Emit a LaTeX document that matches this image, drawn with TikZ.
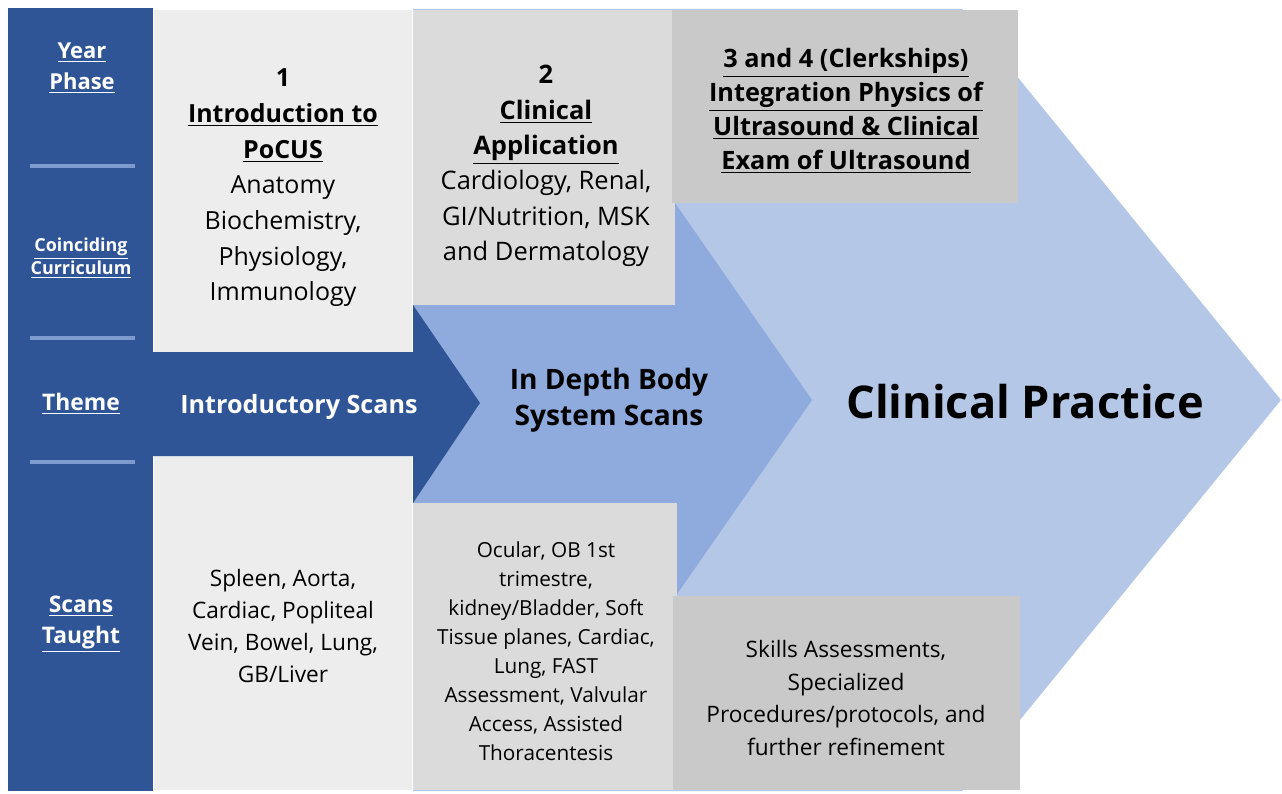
\documentclass[tikz,border=0pt]{standalone}
\usepackage{fontspec}
\setmainfont{Open Sans}
\usetikzlibrary{positioning}

\definecolor{bandblue}{HTML}{2F5597}
\definecolor{midblue}{HTML}{8FAADC}
\definecolor{paleblue}{HTML}{B4C7E7}
\definecolor{sepblue}{HTML}{7E9BCF}
\definecolor{greyA}{HTML}{EDEDED}
\definecolor{greyB}{HTML}{DBDBDB}
\definecolor{greyC}{HTML}{C9C9C9}

\newcommand{\undl}[1]{\underline{#1}}

\begin{document}
\begin{tikzpicture}[x=0.02cm, y=-0.02cm,
    box/.style={rectangle, inner sep=0pt, align=center},
    head/.style={font=\fontsize{13}{17.6}\selectfont\bfseries, text=white, align=center},
    body/.style={font=\fontsize{14.2}{20.3}\selectfont, align=center},
    bodysmall/.style={font=\fontsize{11.8}{16.5}\selectfont, align=center}]
    \useasboundingbox[fill=white] (0,0) rectangle (1282,794);

    % Big arrows, back to front
    \fill[paleblue] (413,9) -- (962,9) -- (1281,400) -- (962,791) -- (413,791) -- cycle;
    \fill[midblue] (413,305) -- (675,305) -- (675,203) -- (812,400) -- (675,597) -- (675,503) -- (413,503) -- cycle;

    % Left band with labels
    \fill[bandblue] (8,8) rectangle (153,791);
    \foreach \y in {166,338,462}
        \draw[sepblue, line width=2.2pt] (30,\y) -- (135,\y);

    \node[head, font=\fontsize{12.5}{17.6}\selectfont\bfseries] (yearphase) at (82,68) {\undl{Year}\\\undl{Phase}};
    \node[head, font=\fontsize{10.2}{13.5}\selectfont\bfseries] (coinciding) at (81,258) {\undl{Coinciding}\\\undl{Curriculum}};
    \node[head] (theme) at (81,404) {\undl{Theme}};
    \node[head] (scanstaught) at (81,624) {\undl{Scans}\\\undl{Taught}};

    % Grey boxes, top row
    \node[box, fill=greyA, minimum width=5.16cm, minimum height=6.84cm] (yearone) at (283,181) {};
    \node[body] (yearonetxt) at (283,188) {\textbf{1}\\\textbf{\undl{Introduction to}}\\\textbf{\undl{PoCUS}}\\Anatomy\\Biochemistry,\\Physiology,\\Immunology};

    \node[box, fill=greyB, minimum width=5.24cm, minimum height=5.9cm] (yeartwo) at (544,157.5) {};
    \node[body, font=\fontsize{14.5}{20.1}\selectfont] (yeartwotxt) at (546,166) {\textbf{2}\\\textbf{\undl{Clinical}}\\\textbf{\undl{Application}}\\Cardiology, Renal,\\GI/Nutrition, MSK\\and Dermatology};

    \node[box, fill=greyC, minimum width=6.92cm, minimum height=3.86cm] (clerkships) at (845,106.5) {};
    \node[body, font=\fontsize{14.4}{19.3}\selectfont\bfseries] (clerkshipstxt) at (846,111) {\undl{3 and 4 (Clerkships)}\\\undl{Integration Physics of}\\\undl{Ultrasound \& Clinical}\\\undl{Exam of Ultrasound}};

    % Grey boxes, bottom row
    \node[box, fill=greyA, minimum width=5.16cm, minimum height=6.68cm] (scansone) at (283,623) {};
    \node[body, font=\fontsize{12.9}{18.3}\selectfont] (scansonetxt) at (283,626) {Spleen, Aorta,\\Cardiac, Popliteal\\Vein, Bowel, Lung,\\GB/Liver};

    \node[box, fill=greyB, minimum width=5.28cm, minimum height=5.74cm] (scanstwo) at (545,646.5) {};
    \node[bodysmall] (scanstwotxt) at (546,651) {Ocular, OB 1st\\trimestre,\\kidney/Bladder, Soft\\Tissue planes, Cardiac,\\Lung, FAST\\Assessment, Valvular\\Access, Assisted\\Thoracentesis};

    \node[box, fill=greyC, minimum width=6.94cm, minimum height=3.88cm] (skills) at (846.5,693) {};
    \node[body, font=\fontsize{12.9}{18.6}\selectfont] (skillstxt) at (846,698) {Skills Assessments,\\Specialized\\Procedures/protocols, and\\further refinement};

    % Dark arrow on top
    \fill[bandblue] (153,352) -- (413,352) -- (413,305) -- (480,403) -- (413,503) -- (413,456) -- (153,456) -- cycle;

    \node[head, font=\fontsize{14.3}{20}\selectfont\bfseries] (intro) at (299,407) {Introductory Scans};
    \node[body, font=\fontsize{16}{20.3}\selectfont\bfseries] (indepth) at (609,400) {In Depth Body\\System Scans};
    \node[font=\fontsize{25.7}{34}\selectfont\bfseries] (practice) at (1025,402) {Clinical Practice};
\end{tikzpicture}
\end{document}
